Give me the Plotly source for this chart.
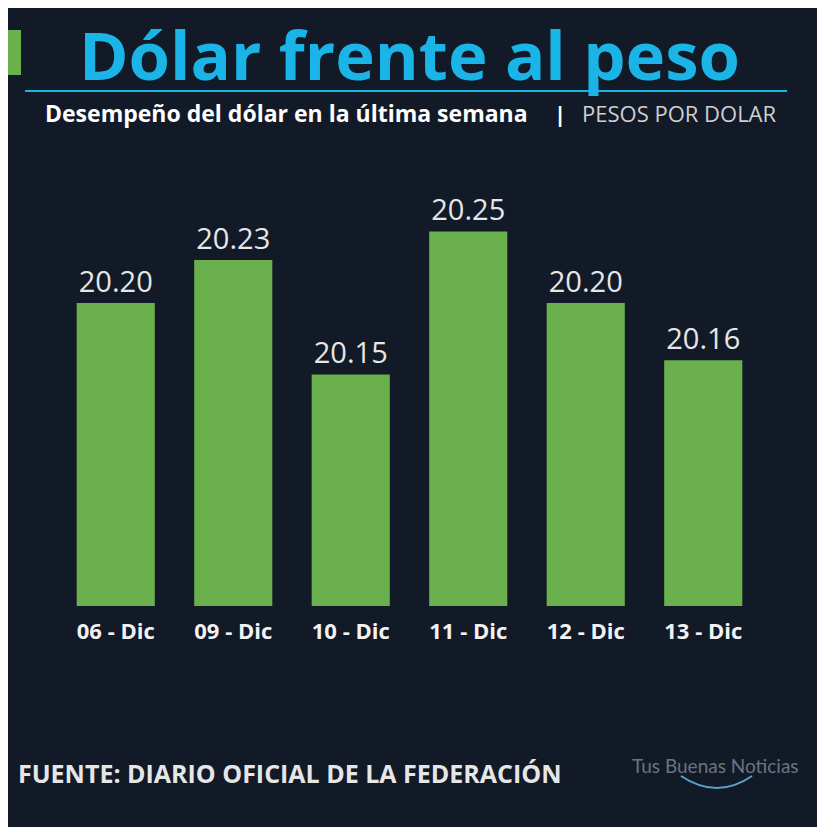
import plotly.graph_objects as go

categories = ["06 - Dic", "09 - Dic", "10 - Dic", "11 - Dic", "12 - Dic", "13 - Dic"]
values = [20.20, 20.23, 20.15, 20.25, 20.20, 20.16]
labels = ["20.20", "20.23", "20.15", "20.25", "20.20", "20.16"]

BG = "#121a28"
OFF = 8  # page body margin
W, H = 825 - OFF, 827 - OFF
L, R, T = 57 - OFF, 63, 140 - OFF
B = H - (606 - OFF)
PW, PH = W - L - R, H - T - B

fig = go.Figure(go.Bar(
    x=categories, y=values, text=labels, textposition="outside",
    marker=dict(color="#6ab04c", line=dict(width=0)),
    textfont=dict(family="Open Sans", size=29, color="#e6e6e6"),
    cliponaxis=False, hoverinfo="skip"))

fig.update_layout(
    width=W, height=H, paper_bgcolor=BG, plot_bgcolor=BG,
    margin=dict(l=L, r=R, t=T, b=B), bargap=0.335, showlegend=False,
    xaxis=dict(showgrid=False, zeroline=False, showline=False, ticks="", ticklabelstandoff=10,
               tickfont=dict(family="Open Sans", size=22, color="#f2f2f2", weight="bold")),
    yaxis=dict(range=[19.988, 20.314], visible=False, showgrid=False),
)
def px(x): return (x - OFF - L) / PW
def py(y): return (H - B - (y - OFF)) / PH
def note(x, y, text, size, color, xanchor="center", family="Open Sans"):
    fig.add_annotation(xref="paper", yref="paper", x=px(x), y=py(y), text=text, showarrow=False,
                       xanchor=xanchor, yanchor="middle",
                       font=dict(family=family, size=size, color=color))

fig.add_shape(type="rect", xref="paper", yref="paper", x0=px(5), x1=px(21), y0=py(75), y1=py(30),
              fillcolor="#6ab04c", line_width=0)
fig.add_shape(type="line", xref="paper", yref="paper", x0=px(25), x1=px(787), y0=py(91), y1=py(91),
              line=dict(color="#1ab4e6", width=2))
note(410, 54, "<b>Dólar frente al peso</b>", 67, "#1ab4e6")
note(43, 113, "<b>Desempeño del dólar en la última semana</b>", 23, "#ffffff", "left")
note(560, 113, "<b>|</b>", 22, "#ffffff")
note(580, 113, "PESOS POR DOLAR", 22, "#d0d0d0", "left")
note(16, 773, "<b>FUENTE: DIARIO OFICIAL DE LA FEDERACIÓN</b>", 25, "#e6e6e6", "left")
note(715, 765, "Tus Buenas Noticias", 19, "#6b7380", family="Lato")
fig.add_shape(type="path", xref="paper", yref="paper",
              path=f"M {px(681)},{py(776)} Q {px(717)},{py(800)} {px(752)},{py(776)}",
              line=dict(color="#5aa0c8", width=2))
fig.write_html("out.html")
